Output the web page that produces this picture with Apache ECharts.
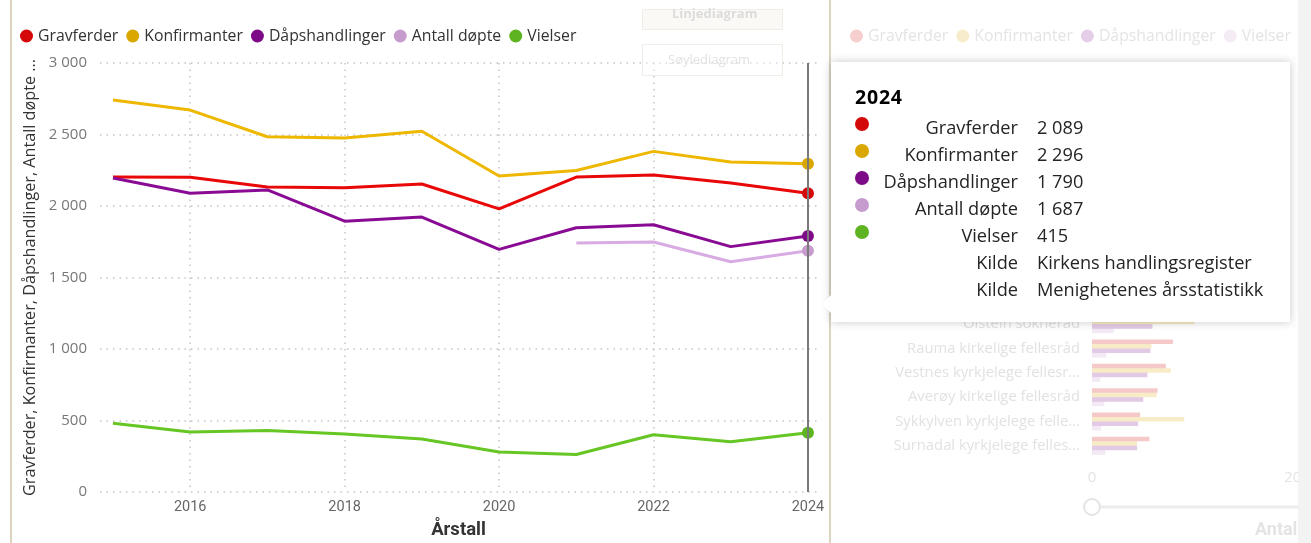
<!DOCTYPE html>
<html>
<head>
<meta charset="utf-8">
<title>Kirkelige handlinger</title>
<script src="https://cdn.jsdelivr.net/npm/echarts@6/dist/echarts.min.js"></script>
<style>
  html, body { margin: 0; padding: 0; background: #fff; }
  #chart { width: 1311px; height: 543px; }
</style>
</head>
<body>
<div id="chart"></div>
<script>
// line chart data
const years = [2015, 2016, 2017, 2018, 2019, 2020, 2021, 2022, 2023, 2024];
const gravferder = [2203, 2201, 2133, 2127, 2154, 1980, 2202, 2217, 2161, 2089];
const konfirmanter = [2742, 2671, 2484, 2476, 2523, 2210, 2248, 2382, 2308, 2296];
const dapshandlinger = [2196, 2089, 2112, 1894, 1923, 1697, 1848, 1869, 1716, 1790];
const antallDopte = [null, null, null, null, null, null, 1741, 1748, 1610, 1687];
const vielser = [480, 420, 430, 405, 370, 280, 262, 400, 352, 415];
const xTickYears = [2016, 2018, 2020, 2022, 2024];
const kilder = ['Kirkens handlingsregister', 'Menighetenes årsstatistikk'];

// faded bar chart in the neighbouring visual
const barCategories = ['Oistein sokneråd', 'Rauma kirkelige fellesråd', 'Vestnes kyrkjelege fellesr...',
  'Averøy kirkelige fellesråd', 'Sykkylven kyrkjelege felle...', 'Surnadal kyrkjelege felles...'];
const barGravferder = [70, 79, 72, 64, 47, 56];
const barKonfirmanter = [100, 58, 77, 63, 90, 44];
const barDapshandlinger = [59, 57, 54, 50, 45, 44];
const barVielser = [21, 14, 8, 12, 9, 13];

const UI = "'Segoe UI', 'Open Sans', sans-serif";
const DIN = "'DIN', Roboto, sans-serif";
const colors = {
  Gravferder: '#d40808',
  Konfirmanter: '#d9a700',
  'Dåpshandlinger': '#7d0a87',
  'Antall døpte': '#c69ccf',
  Vielser: '#5db420'
};

function fmt(n) {
  return String(n).replace(/\B(?=(\d{3})+(?!\d))/g, ' ');
}

function lineSeries(name, values) {
  return {
    name: name,
    type: 'line',
    data: years.map((y, i) => [y, values[i]]),
    showSymbol: false,
    symbol: 'circle',
    symbolSize: 12,
    lineStyle: { width: 3, color: colors[name] },
    itemStyle: { color: colors[name] },
    emphasis: { scale: false, lineStyle: { width: 3 } },
    xAxisIndex: 0,
    yAxisIndex: 0
  };
}

function barSeries(name, values, color) {
  return {
    name: name,
    type: 'bar',
    data: values,
    xAxisIndex: 1,
    yAxisIndex: 1,
    barGap: '0%',
    barCategoryGap: '26%',
    silent: true,
    itemStyle: { color: color, opacity: 0.22 }
  };
}

const chart = echarts.init(document.getElementById('chart'));

const option = {
  animation: false,
  backgroundColor: '#fff',
  legend: [
    {
      data: ['Gravferder', 'Konfirmanter', 'Dåpshandlinger', 'Antall døpte', 'Vielser'],
      left: 15,
      top: 23,
      icon: 'circle',
      itemWidth: 13,
      itemHeight: 13,
      itemGap: 8,
      textStyle: { fontFamily: UI, fontSize: 15.8, color: '#333' }
    },
    {
      data: ['Gravferder', 'Konfirmanter', 'Dåpshandlinger',
        { name: 'Vielser', itemStyle: { color: '#c69ccf' } }],
      left: 845,
      top: 23,
      icon: 'circle',
      itemWidth: 13,
      itemHeight: 13,
      itemGap: 8,
      itemStyle: { opacity: 0.2 },
      textStyle: { fontFamily: UI, fontSize: 15.8, color: '#e4e4e4' }
    }
  ],
  grid: [
    { left: 100, right: 494, top: 63, bottom: 51, outerBoundsMode: 'none' },
    { left: 1092, width: 410, top: 312, height: 146, outerBoundsMode: 'none' }
  ],
  xAxis: [
    {
      type: 'value',
      gridIndex: 0,
      min: 2014.832,
      max: 2024.117,
      name: 'Årstall',
      nameLocation: 'middle',
      nameGap: 29,
      nameTextStyle: { fontFamily: DIN, fontWeight: 'bold', fontSize: 18.5, color: '#333' },
      axisLine: { show: false },
      axisTick: { show: false, customValues: xTickYears },
      axisLabel: {
        customValues: xTickYears,
        color: '#666',
        fontFamily: DIN,
        fontSize: 14.5,
        margin: 8,
        formatter: v => String(v)
      },
      splitLine: { show: true, lineStyle: { color: '#c4c4c4', width: 1.5, type: [1.5, 5] } }
    },
    {
      type: 'value',
      gridIndex: 1,
      min: 0,
      max: 400,
      interval: 200,
      axisLine: { show: false },
      axisTick: { show: false },
      splitLine: { show: false },
      axisLabel: { color: '#e4e4e4', fontFamily: UI, fontSize: 15, margin: 12 }
    }
  ],
  yAxis: [
    {
      type: 'value',
      gridIndex: 0,
      min: 0,
      max: 3000,
      interval: 500,
      name: 'Gravferder, Konfirmanter, Dåpshandlinger, Antall døpte ...',
      nameLocation: 'middle',
      nameGap: 61,
      nameTextStyle: { fontFamily: UI, fontSize: 16.2, color: '#333' },
      axisLine: { show: false },
      axisTick: { show: false },
      axisLabel: { color: '#777', fontFamily: UI, fontSize: 15, margin: 13, formatter: v => fmt(v) },
      splitLine: { show: true, lineStyle: { color: '#c4c4c4', width: 1.5, type: [1.5, 5] } }
    },
    {
      type: 'category',
      gridIndex: 1,
      data: barCategories,
      inverse: true,
      axisLine: { show: false },
      axisTick: { show: false },
      axisPointer: { show: false },
      axisLabel: { color: '#e2e2e2', fontFamily: UI, fontSize: 14.8, margin: 12 }
    }
  ],
  tooltip: {
    trigger: 'axis',
    triggerOn: 'none',
    alwaysShowContent: true,
    position: [831, 62],
    padding: 0,
    borderWidth: 0,
    backgroundColor: '#fff',
    transitionDuration: 0,
    extraCssText: 'border-radius:0;box-shadow:0 0 9px rgba(0,0,0,0.22);',
    axisPointer: {
      type: 'line',
      animation: false,
      lineStyle: { color: '#7a7a7a', width: 2, type: 'solid' },
      label: { show: false }
    },
    formatter: function (params) {
      const idx = params[0].dataIndex;
      const rows = params.map(p => ({ dot: p.color, name: p.seriesName, value: fmt(p.value[1]) }))
        .concat(kilder.map(k => ({ dot: null, name: 'Kilde', value: k })));
      let html = '<div style="position:relative;width:459px;height:260px;font-family:' + UI.replace(/'/g, '&quot;') + ';color:#252423;">';
      html += '<div style="position:absolute;left:-9px;top:233px;width:0;height:0;border-top:9px solid transparent;border-bottom:9px solid transparent;border-right:9px solid #fff;"></div>';
      html += '<div style="position:absolute;left:24px;top:21px;line-height:28px;font-size:19.5px;font-weight:bold;letter-spacing:0.8px;color:#000;">' + years[idx] + '</div>';
      rows.forEach((r, i) => {
        const cy = 65 + i * 27;
        if (r.dot) {
          html += '<div style="position:absolute;left:24px;top:' + (cy - 10) + 'px;width:14px;height:14px;border-radius:50%;background:' + r.dot + ';"></div>';
        }
        html += '<div style="position:absolute;left:20px;width:167px;text-align:right;top:' + (cy - 14) + 'px;line-height:28px;font-size:18.2px;">' + r.name + '</div>';
        html += '<div style="position:absolute;left:206px;top:' + (cy - 14) + 'px;line-height:28px;font-size:18.2px;">' + r.value + '</div>';
      });
      html += '</div>';
      return html;
    }
  },
  graphic: [
    { type: 'rect', left: 10, top: 0, shape: { width: 2, height: 543 }, style: { fill: '#ddd4c0' }, z: 10 },
    { type: 'rect', left: 829, top: 0, shape: { width: 2, height: 543 }, style: { fill: '#ddd4c0' }, z: 10 },
    { type: 'rect', left: 642, top: 9, shape: { width: 140, height: 20 }, style: { fill: '#faf9f6', stroke: '#f0ede6', lineWidth: 1 }, z: 10 },
    { type: 'text', left: 672, top: 8, style: { text: 'Linjediagram', fill: '#dcdcdc', font: 'bold 13px ' + UI }, z: 11 },
    { type: 'rect', left: 642, top: 44, shape: { width: 140, height: 31 }, style: { fill: 'rgba(255,255,255,0.4)', stroke: '#f0ede6', lineWidth: 1 }, z: 10 },
    { type: 'text', left: 668, top: 54, style: { text: 'Søylediagram', fill: '#e2e2e2', font: '13px ' + UI }, z: 11 },
    { type: 'circle', shape: { cx: 1092, cy: 507, r: 8 }, style: { fill: '#fff', stroke: '#e4e4e4', lineWidth: 2 }, z: 10 },
    { type: 'rect', left: 1101, top: 505.5, shape: { width: 210, height: 3 }, style: { fill: '#ececec' }, z: 9 },
    { type: 'text', left: 1255, top: 521, style: { text: 'Antall', fill: '#e4e4e4', font: 'bold 18px ' + DIN }, z: 10 },
    { type: 'rect', left: 1298, top: 0, shape: { width: 13, height: 543 }, style: { fill: '#f3f3f3' }, z: 12 }
  ],
  series: [
    lineSeries('Gravferder', gravferder),
    lineSeries('Konfirmanter', konfirmanter),
    lineSeries('Dåpshandlinger', dapshandlinger),
    lineSeries('Antall døpte', antallDopte),
    lineSeries('Vielser', vielser),
    barSeries('Gravferder', barGravferder, '#d40808'),
    barSeries('Konfirmanter', barKonfirmanter, '#d9a700'),
    barSeries('Dåpshandlinger', barDapshandlinger, '#7d0a87'),
    barSeries('Vielser', barVielser, '#c69ccf')
  ]
};

chart.setOption(option);
chart.dispatchAction({ type: 'showTip', seriesIndex: 0, dataIndex: 9 });
</script>
</body>
</html>
